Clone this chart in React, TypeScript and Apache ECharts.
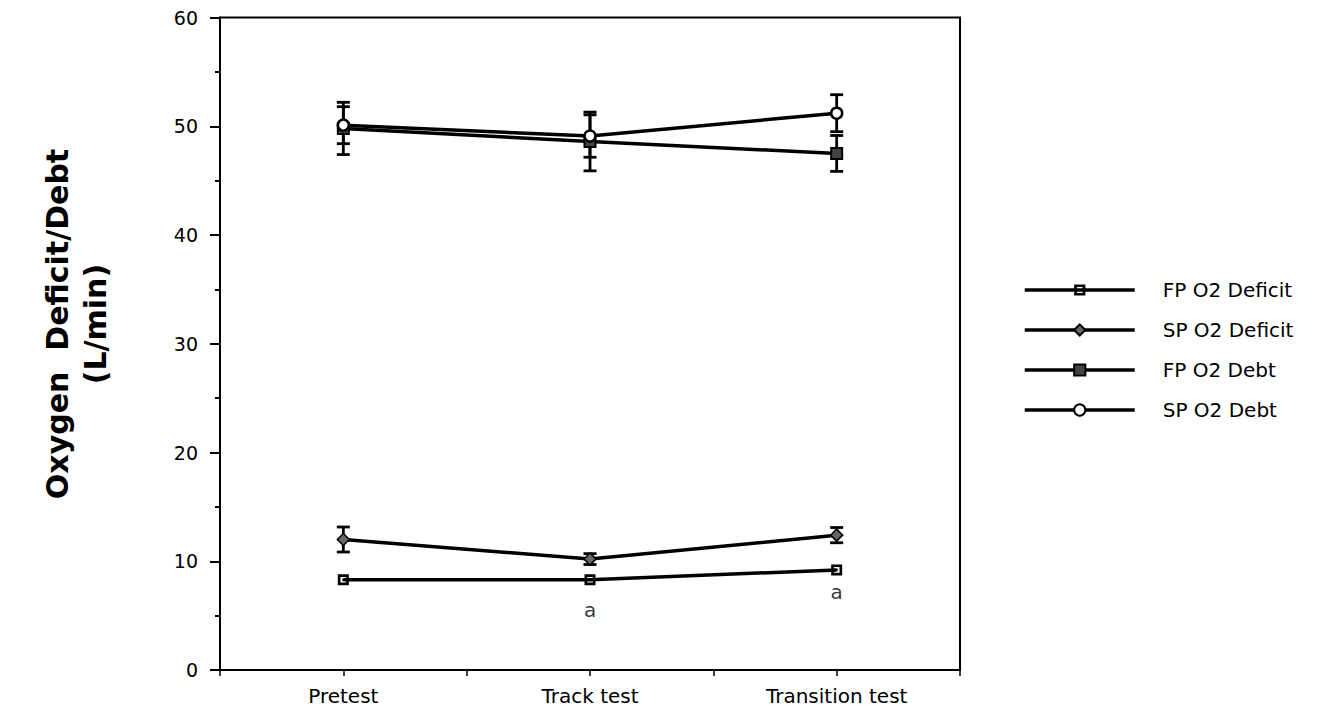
import React, { useEffect, useRef } from "react";
import * as echarts from "echarts";

const categories = ["Pretest", "Track test", "Transition test"];
const yTicks = [0, 10, 20, 30, 40, 50, 60];

const fpDeficit = [8.3, 8.3, 9.2];
const spDeficit = [12.0, 10.2, 12.4];
const spDeficitErr = [1.15, 0.5, 0.7];
const fpDebt = [49.8, 48.6, 47.5];
const fpDebtErr = [2.4, 2.7, 1.65];
const spDebt = [50.1, 49.1, 51.2];
const spDebtErr = [1.7, 1.95, 1.7];

const annotationCats = [1, 2];
const annotationValues = [5.5, 7.2];
const annotationTexts = ["a", "a"];

const FONT = "'DejaVu Sans', 'Liberation Sans', Arial, sans-serif";

const squareDot = "path://M0 0H10V10H0Z M2.4 2.4V7.6H7.6V2.4Z M4 4H6V6H4Z";

function toPoints(vals: number[]) {
  return vals.map((v, i) => [i + 1, v]);
}
function toErr(vals: number[], errs: number[]) {
  return vals.map((v, i) => [i + 1, v - errs[i], v + errs[i]]);
}

function errorSeries(name: string, vals: number[], errs: number[]) {
  return {
    name,
    type: "custom",
    z: 1,
    silent: true,
    encode: { x: 0, y: [1, 2] },
    data: toErr(vals, errs),
    renderItem: (params: any, api: any) => {
      const x = api.value(0);
      const lo = api.coord([x, api.value(1)]);
      const hi = api.coord([x, api.value(2)]);
      const hw = 6.5;
      const style = { stroke: "#000", lineWidth: 2.8 };
      return {
        type: "group",
        children: [
          { type: "line", shape: { x1: lo[0], y1: lo[1], x2: hi[0], y2: hi[1] }, style },
          { type: "line", shape: { x1: lo[0] - hw, y1: lo[1], x2: lo[0] + hw, y2: lo[1] }, style },
          { type: "line", shape: { x1: hi[0] - hw, y1: hi[1], x2: hi[0] + hw, y2: hi[1] }, style },
        ],
      };
    },
  };
}

function lineSeries(name: string, vals: number[], symbol: string, size: number, itemStyle: any) {
  return {
    name,
    type: "line",
    z: 3,
    data: toPoints(vals),
    symbol,
    symbolSize: size,
    showAllSymbol: true,
    lineStyle: { color: "#000", width: 3.5 },
    itemStyle,
    emphasis: { disabled: true },
  };
}

export default function App() {
  const ref = useRef<HTMLDivElement>(null);
  useEffect(() => {
    if (!ref.current) return;
    const chart = echarts.init(ref.current, undefined, { renderer: "svg" });
    const option: any = {
      animation: false,
      backgroundColor: "#fff",
      grid: {
        left: 212,
        top: 8,
        right: 363,
        bottom: 40,
        show: true,
        borderColor: "#000",
        borderWidth: 2,
      },
      xAxis: {
        type: "value",
        min: 0.5,
        max: 3.5,
        interval: 0.5,
        splitLine: { show: false },
        axisLine: { lineStyle: { color: "#000", width: 2 } },
        axisTick: { inside: false, length: 6, lineStyle: { color: "#000", width: 1.5 } },
        axisLabel: {
          margin: 16,
          color: "#000",
          fontSize: 20,
          fontFamily: FONT,
          formatter: (v: number) =>
            Number.isInteger(v) && v >= 1 && v <= categories.length ? categories[v - 1] : "",
        },
      },
      yAxis: {
        type: "value",
        min: yTicks[0],
        max: yTicks[yTicks.length - 1],
        interval: 10,
        splitLine: { show: false },
        axisLine: { lineStyle: { color: "#000", width: 2 } },
        axisTick: { inside: false, length: 10, lineStyle: { color: "#000", width: 2 } },
        minorTick: { show: true, splitNumber: 2, length: 5, lineStyle: { color: "#000", width: 2 } },
        axisLabel: {
          margin: 22,
          color: "#000",
          fontSize: 19,
          fontFamily: FONT,
        },
      },
      legend: {
        orient: "vertical",
        left: 1010,
        top: 267,
        itemWidth: 110,
        itemHeight: 14,
        itemGap: 20,
        selectedMode: false,
        data: ["FP O2 Deficit", "SP O2 Deficit", "FP O2 Debt", "SP O2 Debt"],
        lineStyle: { width: 3.5, color: "#000" },
        textStyle: {
          fontSize: 20,
          fontFamily: FONT,
          color: "#000",
          padding: [0, 0, 0, 23],
        },
      },
      graphic: [
        {
          type: "text",
          x: 68,
          y: 316,
          rotation: Math.PI / 2,
          style: {
            text: "Oxygen  Deficit/Debt\n(L/min)",
            fill: "#000",
            font: `bold 30px ${FONT}`,
            textAlign: "center",
            textVerticalAlign: "middle",
            lineHeight: 38,
          },
        },
      ],
      series: [
        errorSeries("err-sp-deficit", spDeficit, spDeficitErr),
        errorSeries("err-fp-debt", fpDebt, fpDebtErr),
        errorSeries("err-sp-debt", spDebt, spDebtErr),
        lineSeries("FP O2 Deficit", fpDeficit, squareDot, 11, { color: "#000", borderWidth: 0 }),
        lineSeries("SP O2 Deficit", spDeficit, "diamond", 12, {
          color: "#666",
          borderColor: "#000",
          borderWidth: 1.5,
        }),
        lineSeries("FP O2 Debt", fpDebt, "rect", 11, {
          color: "#444",
          borderColor: "#000",
          borderWidth: 2,
        }),
        lineSeries("SP O2 Debt", spDebt, "circle", 11, {
          color: "#fff",
          borderColor: "#000",
          borderWidth: 2.5,
        }),
        {
          name: "annotations",
          type: "scatter",
          silent: true,
          symbolSize: 0,
          data: annotationCats.map((c, i) => ({
            value: [c + 1, annotationValues[i]],
            name: annotationTexts[i],
          })),
          label: {
            show: true,
            position: "inside",
            formatter: (p: any) => p.name,
            fontSize: 20,
            fontFamily: FONT,
            color: "#000",
          },
        },
      ],
    };
    chart.setOption(option);
    return () => chart.dispose();
  }, []);
  return <div ref={ref} style={{ width: 1315, height: 702 }} />;
}
